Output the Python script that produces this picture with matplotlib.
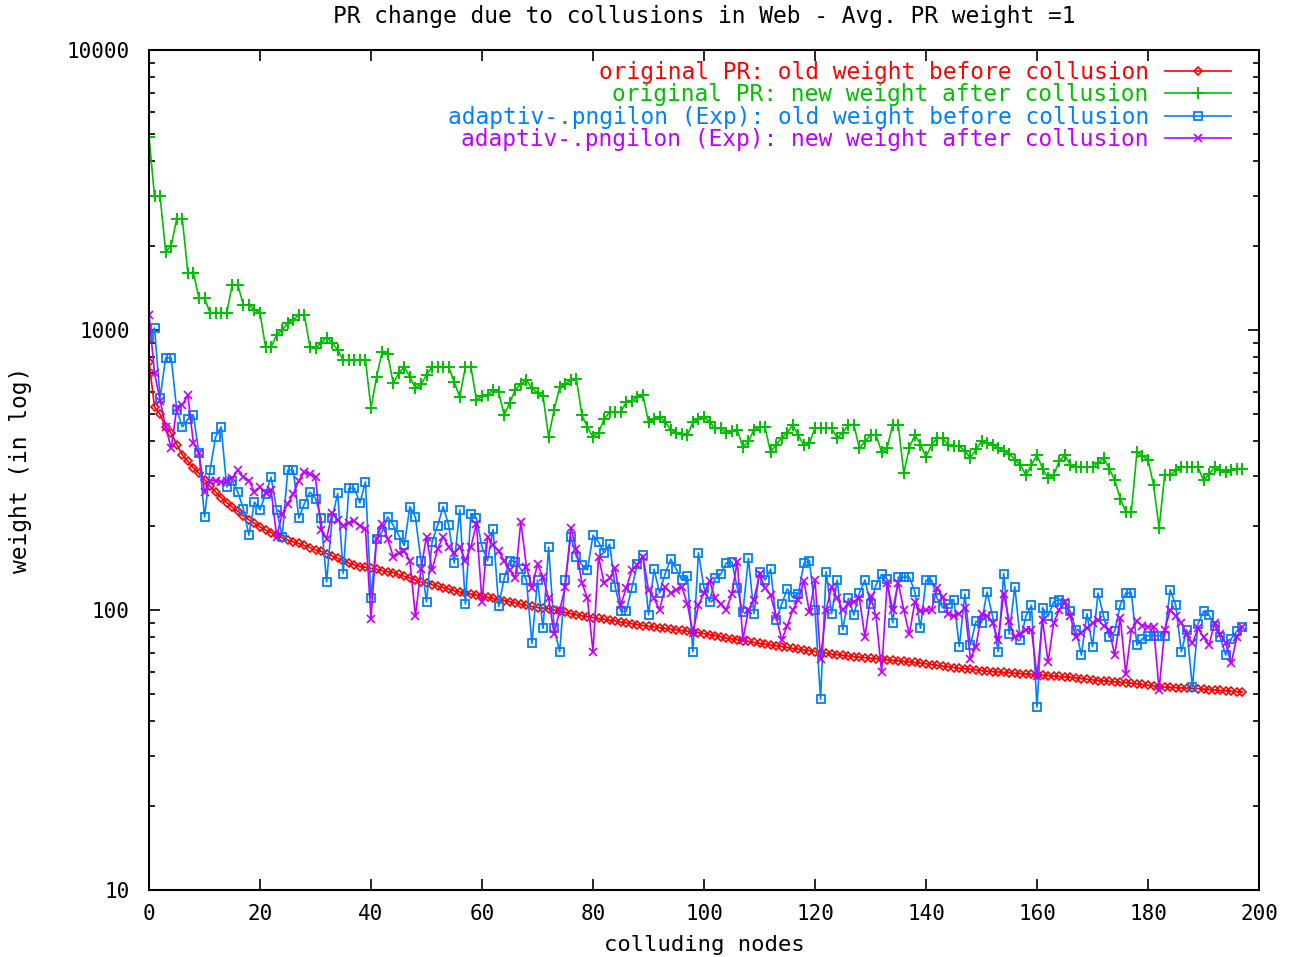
import matplotlib
matplotlib.use("Agg")
import matplotlib.pyplot as plt
from matplotlib.ticker import FixedLocator, FixedFormatter, LogLocator, NullFormatter

# values, node index 0..197
old_pr = [769, 531, 500, 450, 428, 390, 358, 340, 322, 308, 292, 277, 264, 252, 242, 233, 225, 217, 210, 204,
          198, 193, 189, 185, 181, 178, 175, 173, 170, 167, 164, 162, 159, 156, 153, 150, 147, 145, 143, 142,
          141, 140, 138, 137, 136, 134, 132, 130, 128, 126, 125, 123, 122, 120, 119, 117, 116, 115, 114, 113,
          112, 111, 110, 109, 108, 107, 106, 105, 104, 103, 102, 101.6, 101, 100, 99, 98, 97, 96, 95.3, 94.6,
          94, 93.3, 92.6, 92, 91.3, 90.6, 90, 89.3, 88.6, 88, 87.5, 87, 86.5, 86, 85.5, 85, 84.5, 84, 83.5, 83,
          82.3, 81.6, 81, 80.2, 79.4, 78.8, 78.3, 77.7, 77.2, 76.6, 76, 75.5, 75, 74.5, 74, 73.5, 73, 72.5, 72, 71.5,
          71, 70.5, 70, 69.6, 69.2, 68.9, 68.5, 68.2, 67.9, 67.6, 67.3, 67, 66.7, 66.4, 66.1, 65.8, 65.5, 65.2, 65, 64.6,
          64.2, 63.8, 63.4, 63, 62.6, 62.3, 62, 61.7, 61.4, 61.1, 60.8, 60.5, 60.3, 60.1, 59.9, 59.7, 59.5, 59.3, 59.1, 58.9,
          58.7, 58.5, 58.3, 58.1, 57.9, 57.7, 57.5, 57.2, 56.9, 56.6, 56.3, 56, 55.8, 55.6, 55.4, 55.2, 55, 54.8, 54.5, 54.2,
          53.9, 53.6, 53.3, 53, 52.9, 52.8, 52.7, 52.6, 52.5, 52.4, 52.2, 52, 51.8, 51.6, 51.4, 51.2, 51.1, 51]

new_pr = [4900, 3000, 3000, 1900, 2000, 2500, 2500, 1600, 1600, 1300, 1300, 1150, 1150, 1150, 1150, 1450, 1450, 1230, 1230, 1180,
          1150, 870, 870, 960, 1000, 1060, 1090, 1130, 1130, 870, 860, 900, 940, 900, 850, 780, 780, 780, 780, 780,
          527, 680, 834, 820, 647, 700, 738, 680, 621, 640, 690, 738, 738, 738, 738, 650, 577, 738, 738, 563,
          580, 585, 611, 600, 497, 550, 611, 640, 662, 620, 596, 580, 415, 520, 625, 640, 662, 670, 497, 450,
          415, 430, 480, 509, 509, 509, 553, 560, 577, 585, 469, 480, 489, 470, 440, 430, 425, 420, 469, 480,
          489, 470, 445, 445, 430, 435, 440, 382, 400, 440, 449, 449, 366, 390, 411, 430, 458, 420, 388, 394,
          447, 447, 447, 447, 411, 430, 458, 458, 379, 400, 422, 422, 366, 380, 458, 458, 308, 380, 422, 390,
          352, 390, 411, 411, 388, 385, 385, 370, 349, 375, 400, 395, 390, 379, 370, 362, 344, 330, 303, 330,
          358, 320, 296, 303, 340, 358, 330, 324, 324, 324, 324, 335, 349, 320, 291, 250, 224, 224, 366, 355,
          344, 280, 196, 303, 303, 315, 324, 324, 324, 324, 291, 305, 324, 317, 310, 315, 320, 320]

old_exp = [944, 1016, 572, 795, 795, 518, 451, 480, 497, 364, 215, 316, 415, 451, 275, 290, 264, 230, 185, 243,
           228, 260, 298, 228, 183, 316, 316, 213, 240, 264, 250, 213, 126, 213, 261, 135, 272, 272, 241, 287,
           110, 180, 190, 215, 201, 185, 170, 234, 215, 150, 107, 175, 200, 234, 201, 147, 228, 105, 221, 213,
           168, 150, 194, 103, 130, 150, 149, 140, 128, 76, 128, 86, 168, 86, 71, 128, 183, 155, 145, 139,
           185, 175, 160, 172, 121, 99, 99, 120, 146, 157, 96, 140, 115, 135, 152, 140, 128, 132, 71, 160,
           120, 107, 130, 134, 147, 149, 120, 98, 153, 97, 137, 128, 140, 92, 105, 119, 111, 114, 147, 150,
           100, 48, 137, 97, 128, 85, 110, 96, 115, 128, 105, 123, 134, 129, 90, 131, 131, 131, 116, 86,
           128, 128, 110, 102, 105, 109, 74, 114, 75, 91, 90, 116, 95, 71, 135, 82, 121, 78, 95, 104,
           45, 102, 95, 107, 109, 105, 99, 85, 69, 97, 74, 115, 95, 80, 84, 104, 115, 115, 75, 79,
           81, 81, 81, 81, 118, 104, 71, 85, 53, 89, 99, 96, 88, 80, 69, 79, 84, 87]

new_exp = [1132, 700, 560, 450, 378, 527, 540, 585, 394, 364, 264, 290, 290, 287, 290, 295, 316, 298, 290, 264,
           275, 262, 268, 183, 220, 240, 260, 290, 312, 305, 298, 193, 180, 222, 210, 200, 205, 208, 200, 195,
           93, 180, 203, 180, 155, 160, 162, 150, 95, 140, 183, 139, 165, 183, 168, 160, 168, 150, 168, 203,
           107, 183, 170, 162, 150, 139, 130, 207, 143, 120, 146, 131, 110, 82, 100, 121, 196, 165, 125, 110,
           71, 155, 125, 130, 141, 104, 120, 139, 145, 155, 118, 110, 100, 121, 115, 118, 121, 105, 83, 104,
           115, 127, 110, 105, 100, 114, 149, 78, 100, 109, 134, 120, 113, 95, 78, 88, 100, 109, 127, 98,
           128, 67, 100, 121, 110, 100, 105, 107, 110, 80, 112, 95, 60, 125, 100, 125, 100, 82, 107, 99,
           100, 100, 120, 111, 97, 95, 97, 102, 67, 74, 97, 95, 90, 78, 114, 91, 80, 82, 85, 85,
           58, 92, 65, 90, 100, 107, 95, 80, 83, 86, 90, 92, 88, 85, 69, 94, 59, 85, 91, 88,
           87, 87, 52, 85, 100, 95, 90, 82, 76, 86, 80, 75, 90, 82, 76, 64.5, 80, 87]

nodes = list(range(len(old_pr)))

labels = ["original PR: old weight before collusion",
          "original PR: new weight after collusion",
          "adaptiv-.pngilon (Exp): old weight before collusion",
          "adaptiv-.pngilon (Exp): new weight after collusion"]
colors = ["#ff0000", "#00c000", "#0080ff", "#c000ff"]

plt.rcParams['font.family'] = ['DejaVu Sans Mono']
plt.rcParams['font.size'] = 16.5

fig = plt.figure(figsize=(12.9, 9.57), dpi=100)
ax = fig.add_axes([149 / 1290, 1 - 890 / 957, 1110 / 1290, 840 / 957])

ax.plot(nodes, old_pr, color=colors[0], lw=1.2, marker="D", ms=4.5, mfc="none", mew=1.2, label=labels[0])
ax.plot(nodes, new_pr, color=colors[1], lw=1.2, marker="+", ms=9, mew=1.4, label=labels[1])
ax.plot(nodes, old_exp, color=colors[2], lw=1.2, marker="s", ms=5.5, mfc="none", mew=1.3, label=labels[2])
ax.plot(nodes, new_exp, color=colors[3], lw=1.2, marker="x", ms=6, mew=1.2, label=labels[3])

ax.set_yscale("log")
ax.set_xlim(0, 200)
ax.set_ylim(10, 10000)
ax.xaxis.set_major_locator(FixedLocator(range(0, 201, 20)))
ax.yaxis.set_major_locator(FixedLocator([10, 100, 1000, 10000]))
ax.yaxis.set_major_formatter(FixedFormatter(["10", "100", "1000", "10000"]))
ax.yaxis.set_minor_locator(LogLocator(base=10, subs=range(2, 10)))
ax.yaxis.set_minor_formatter(NullFormatter())
ax.tick_params(which="both", direction="in", top=True, right=True, width=1.2, labelsize=15)
ax.tick_params(which="major", length=8, pad=10)
ax.tick_params(axis="y", which="major", pad=14)
ax.tick_params(which="minor", length=4)
for sp in ax.spines.values():
    sp.set_linewidth(1.5)

ax.set_title("PR change due to collusions in Web - Avg. PR weight =1", y=1.032, pad=0, fontsize=16.5)
ax.set_xlabel("colluding nodes", fontsize=16)
ax.set_ylabel("weight (in log)")
ax.xaxis.set_label_coords(0.5, -0.054)
ax.yaxis.set_label_coords(-0.105, 0.5)

leg = ax.legend(loc="upper right", bbox_to_anchor=(0.975, 0.987), frameon=False, markerfirst=False,
                borderaxespad=0, borderpad=0, labelspacing=-0.025, handlelength=2.9, handletextpad=0.7,
                labelcolor="linecolor")

fig.savefig("out.png", dpi=100)
